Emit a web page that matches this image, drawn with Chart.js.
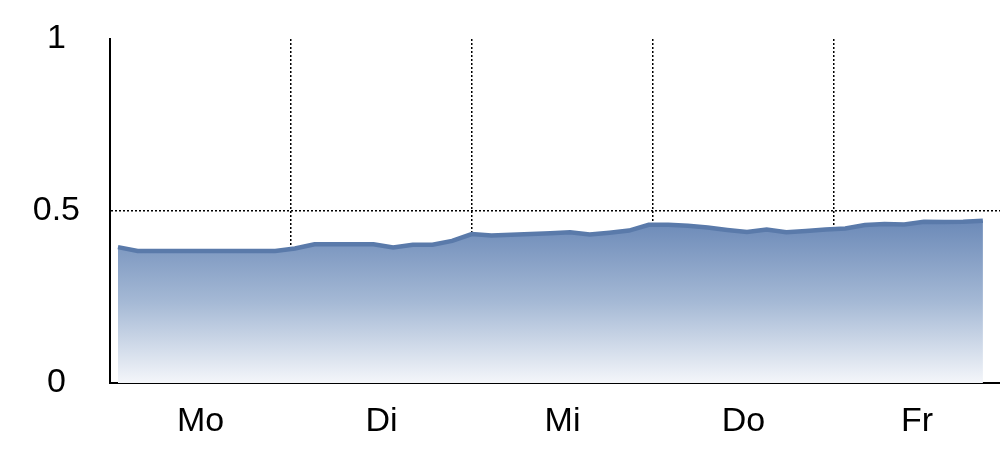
<!DOCTYPE html>
<html>
<head>
<meta charset="utf-8">
<script src="https://cdn.jsdelivr.net/npm/chart.js@4.4.1/dist/chart.umd.min.js"></script>
<style>
  html, body { margin: 0; padding: 0; background: #fff; overflow: hidden; }
  #wrap { width: 1000px; height: 457px; }
</style>
</head>
<body>
<div id="wrap"><canvas id="c" width="1000" height="457"></canvas></div>
<script>
// ---- data ----
const days = ['Mo', 'Di', 'Mi', 'Do', 'Fr'];
const yTicks = [0, 0.5, 1];
// sampled values (evenly spaced samples across the week)
const values = [
  0.395, 0.384, 0.384, 0.384, 0.384, 0.384, 0.384, 0.384, 0.384,
  0.391, 0.403, 0.403, 0.403, 0.403, 0.394, 0.402, 0.402, 0.413,
  0.433, 0.429, 0.431, 0.433, 0.435, 0.438, 0.432, 0.437, 0.443,
  0.460, 0.460, 0.457, 0.452, 0.445, 0.439, 0.446, 0.438, 0.442,
  0.446, 0.449, 0.459, 0.462, 0.461, 0.469, 0.468, 0.469, 0.472
];
// sample timing in day units
const firstSample = 0.044;
const sampleStep = 0.1086;
const xMax = 4.917;

const points = values.map((v, i) => ({ x: firstSample + i * sampleStep, y: v }));
const labelPos = days.map((d, i) => (i + Math.min(i + 1, xMax)) / 2);

const FONT = "'Liberation Sans', Arial, sans-serif";

const ctx = document.getElementById('c').getContext('2d');
new Chart(ctx, {
  type: 'line',
  data: {
    datasets: [{
      data: points,
      borderColor: '#5a7aaa',
      borderWidth: 4.5,
      pointRadius: 0,
      tension: 0,
      fill: 'origin',
      backgroundColor: (c) => {
        const area = c.chart.chartArea;
        if (!area) return 'rgba(120,150,190,0.8)';
        const y0 = c.chart.scales.y.getPixelForValue(0.47);
        const g = c.chart.ctx.createLinearGradient(0, y0, 0, area.bottom);
        g.addColorStop(0, 'rgb(108,138,184)');
        g.addColorStop(0.5, 'rgb(165,185,213)');
        g.addColorStop(1, 'rgb(244,246,250)');
        return g;
      }
    }]
  },
  options: {
    responsive: false,
    animation: false,
    devicePixelRatio: 1,
    layout: { padding: { top: 39, right: 0, left: 0, bottom: 0 } },
    plugins: { legend: { display: false }, tooltip: { enabled: false } },
    scales: {
      x: {
        type: 'linear',
        min: 0,
        max: xMax,
        afterBuildTicks: (s) => {
          const t = [];
          for (let d = 1; d < days.length; d++) t.push({ value: d });
          labelPos.forEach(p => t.push({ value: p }));
          t.sort((a, b) => a.value - b.value);
          s.ticks = t;
        },
        afterFit: (s) => { s.height = 74; s.paddingLeft = 0; s.paddingRight = 0; },
        border: { display: true, color: '#000', width: 2, dash: [2, 2] },
        grid: {
          drawTicks: false,
          color: (c) => Number.isInteger(c.tick.value) ? '#000' : 'rgba(0,0,0,0)',
          lineWidth: 1.5
        },
        ticks: {
          autoSkip: false,
          maxRotation: 0,
          padding: 18,
          color: '#000',
          font: { family: FONT, size: 34 },
          callback: (v) => {
            const k = labelPos.findIndex(p => Math.abs(p - v) < 1e-6);
            return k >= 0 ? days[k] : '';
          }
        }
      },
      y: {
        min: 0,
        max: 1,
        afterBuildTicks: (s) => { s.ticks = yTicks.map(v => ({ value: v })); },
        afterFit: (s) => { s.width = 110; s.paddingTop = 0; s.paddingBottom = 0; },
        border: { display: true, color: '#000', width: 2, dash: [2, 2] },
        grid: {
          drawTicks: false,
          color: (c) => c.tick.value === 0.5 ? '#000' : 'rgba(0,0,0,0)',
          lineWidth: 1.5
        },
        ticks: {
          padding: 30,
          crossAlign: 'center',
          color: '#000',
          font: { family: FONT, size: 34 },
          callback: (v) => String(v)
        }
      }
    }
  }
});
</script>
</body>
</html>
